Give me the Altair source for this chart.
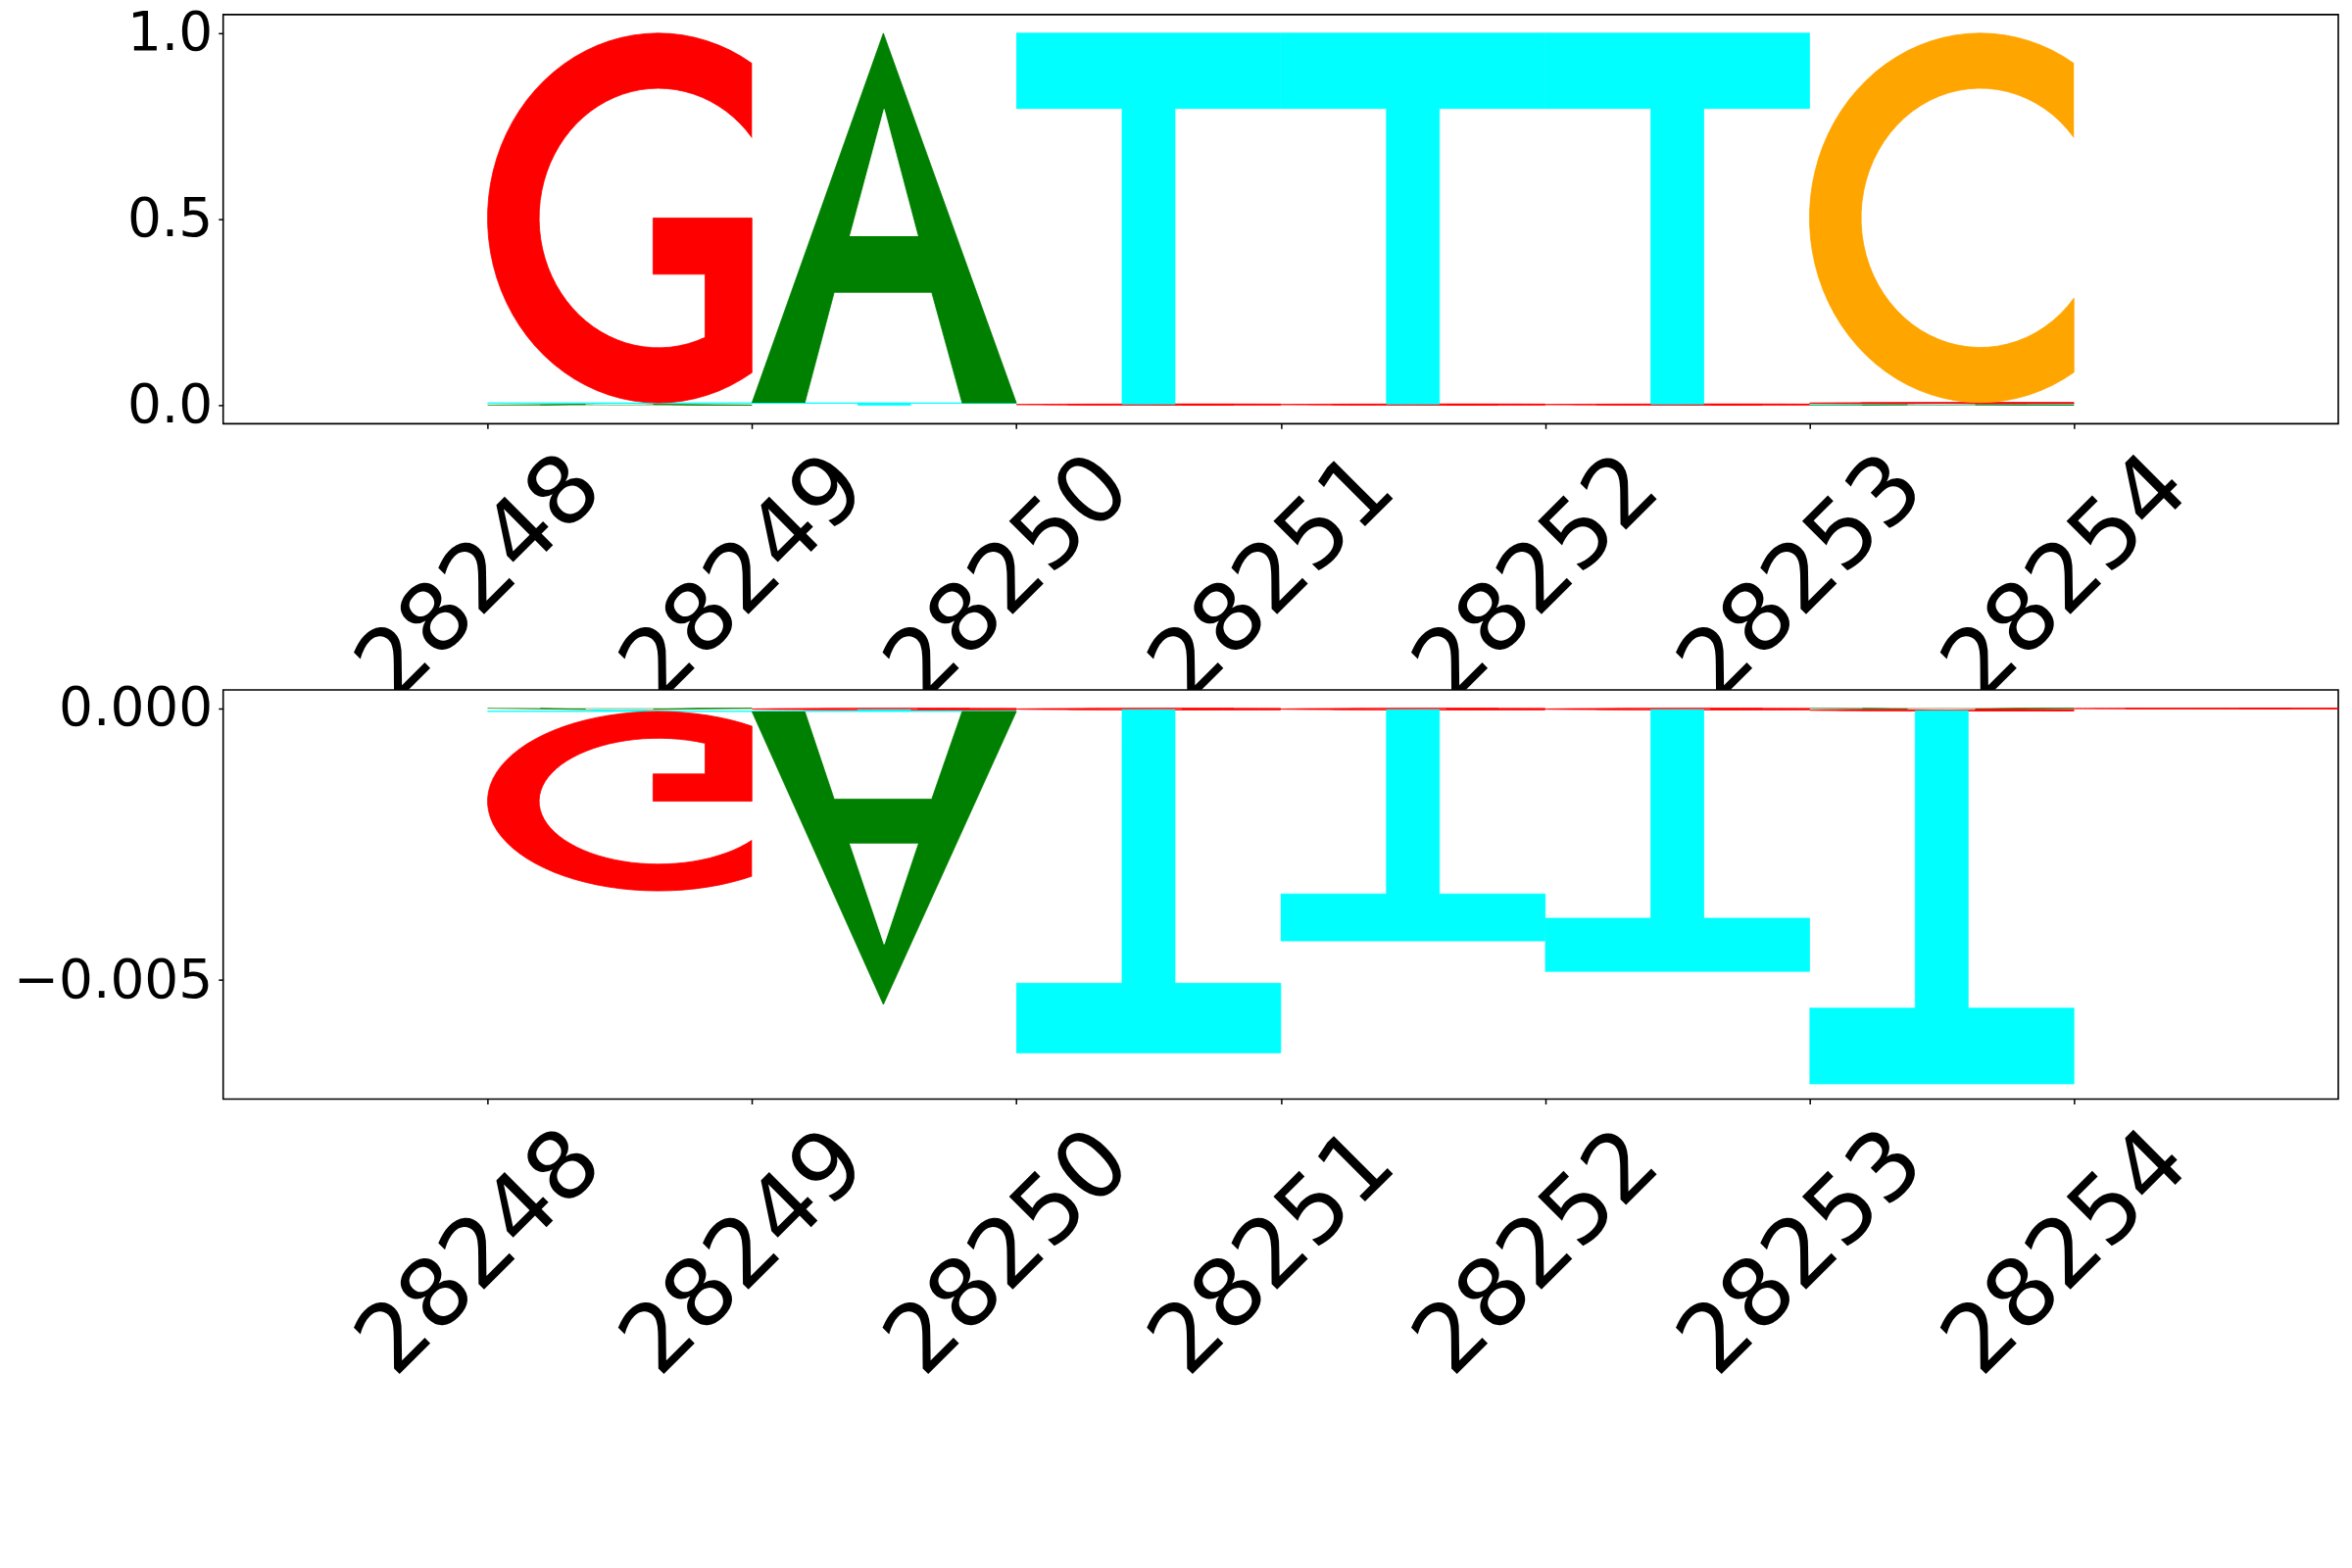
import altair as alt
import numpy as np
import pandas as pd

positions = [28248, 28249, 28250, 28251, 28252, 28253, 28254]
letters = ["A", "C", "G", "T"]

# upper logo (probabilities)
top_A = [0.003, 0.994, 0.0, 0.0, 0.0, 0.002, 0.0]
top_C = [0.0, 0.0, 0.0, 0.0, 0.0, 0.993, 0.0]
top_G = [0.994, 0.0, 0.003, 0.003, 0.003, 0.003, 0.0]
top_T = [0.003, 0.006, 0.997, 0.997, 0.997, 0.002, 0.0]

# lower logo (all negative)
bot_A = [-0.00003, -0.00539, 0.0, 0.0, 0.0, -0.00002, 0.0]
bot_C = [0.0, 0.0, 0.0, 0.0, 0.0, 0.0, 0.0]
bot_G = [-0.00330, -0.00003, -0.00003, -0.00003, -0.00003, -0.00003, -0.00001]
bot_T = [-0.00003, -0.00003, -0.00631, -0.00425, -0.00481, -0.00686, 0.0]

letter_colors = {"A": "#008000", "C": "#ffa500", "G": "#ff0000", "T": "#00ffff", "hole": "#ffffff"}


# --- glyph outlines in unit letter space (u across, v up) ---
def arc(cx, cy, rx, ry, a0, a1, n=60):
    t = np.radians(np.linspace(a0, a1, n))
    return list(zip(cx + rx * np.cos(t), cy + ry * np.sin(t)))


CX, CY = 0.646, 0.5
ORX, ORY = 0.646, 0.5
IRX, IRY = 0.451, 0.351
out_cut = np.degrees(np.arccos((1 - CX) / ORX))
in_cut = np.degrees(np.arccos((1 - CX) / IRX))
stem_cut = np.degrees(np.arccos((0.823 - CX) / IRX))

glyphs = {
    "C": arc(CX, CY, ORX, ORY, out_cut, 360 - out_cut)
    + arc(CX, CY, IRX, IRY, 360 - in_cut, in_cut),
    "G": arc(CX, CY, ORX, ORY, out_cut, 360 - out_cut)
    + [(1.0, 0.5), (0.626, 0.5), (0.626, 0.348), (0.823, 0.348)]
    + arc(CX, CY, IRX, IRY, 360 - stem_cut, in_cut),
    "A": [(0, 0), (0.497, 1), (1, 0), (0.795, 0), (0.68, 0.299), (0.311, 0.299), (0.2, 0)],
    "T": [(0, 1), (1, 1), (1, 0.797), (0.6, 0.797), (0.6, 0), (0.4, 0), (0.4, 0.797), (0, 0.797)],
}
a_hole = [(0.371, 0.451), (0.5, 0.794), (0.627, 0.451)]


def logo_rows(name, values):
    rows = []
    for k, pos in enumerate(positions):
        col = [(values[l][k], l) for l in letters if values[l][k] != 0]
        col.sort(key=lambda t: abs(t[0]))
        up, down = 0.0, 0.0
        for h, l in col:
            if h > 0:
                base, up = up, up + h
            else:
                base, down = down, down + h
            parts = [(l, glyphs[l])]
            if l == "A":
                parts.append(("hole", a_hole))
            for kind, pts in parts:
                sid = f"{name}-{pos}-{l}-{kind}"
                for i, (u, v) in enumerate(pts):
                    rows.append({"shape": sid, "kind": kind, "i": i,
                                 "x": pos + u, "y": base + v * h})
    return pd.DataFrame(rows)


top_df = logo_rows("top", {"A": top_A, "C": top_C, "G": top_G, "T": top_T})
bot_df = logo_rows("bot", {"A": bot_A, "C": bot_C, "G": bot_G, "T": bot_T})

color_scale = alt.Scale(domain=list(letter_colors), range=list(letter_colors.values()))


def logo_panel(df, y_domain, y_ticks, y_fmt):
    base = alt.Chart(df).encode(
        x=alt.X("x:Q", title=None,
                scale=alt.Scale(domain=[28247, 28255], nice=False, zero=False),
                axis=alt.Axis(values=positions, format="d", labelAngle=-45,
                              labelAlign="right", labelBaseline="middle",
                              labelFontSize=96, labelOffset=100, labelPadding=44,
                              labelLimit=2000, labelOverlap=False, labelFlush=False)),
        y=alt.Y("y:Q", title=None,
                scale=alt.Scale(domain=y_domain, nice=False, zero=False),
                axis=alt.Axis(values=y_ticks, format=y_fmt, labelFontSize=55,
                              labelPadding=6, labelLimit=2000)),
        detail="shape:N",
        order="i:Q",
        fill=alt.Fill("kind:N", scale=color_scale, legend=None),
        stroke=alt.Stroke("kind:N", scale=color_scale, legend=None),
    )
    body = base.mark_line(strokeWidth=0.8, clip=True).transform_filter(alt.datum.kind != "hole")
    holes = base.mark_line(strokeWidth=0.8, clip=True).transform_filter(alt.datum.kind == "hole")
    return alt.layer(body, holes).properties(width=2161, height=418)


top = logo_panel(top_df, [-0.05, 1.05], [0, 0.5, 1.0], ".1f")
bottom = logo_panel(bot_df, [-0.00719, 0.000337], [0, -0.005], ".3f")

chart = alt.vconcat(top, bottom, spacing=272, bounds="flush").properties(
    padding={"left": 4, "top": -3, "right": 5, "bottom": 5}
).configure(font="DejaVu Sans").configure_view(
    stroke="black", strokeWidth=1.6, fill="white"
).configure_axis(
    domain=False, grid=False, tickSize=5, tickWidth=1.5, tickColor="black",
    labelColor="black", labelFont="DejaVu Sans"
)

chart.save("out.html", embed_options={"renderer": "svg", "actions": False})
